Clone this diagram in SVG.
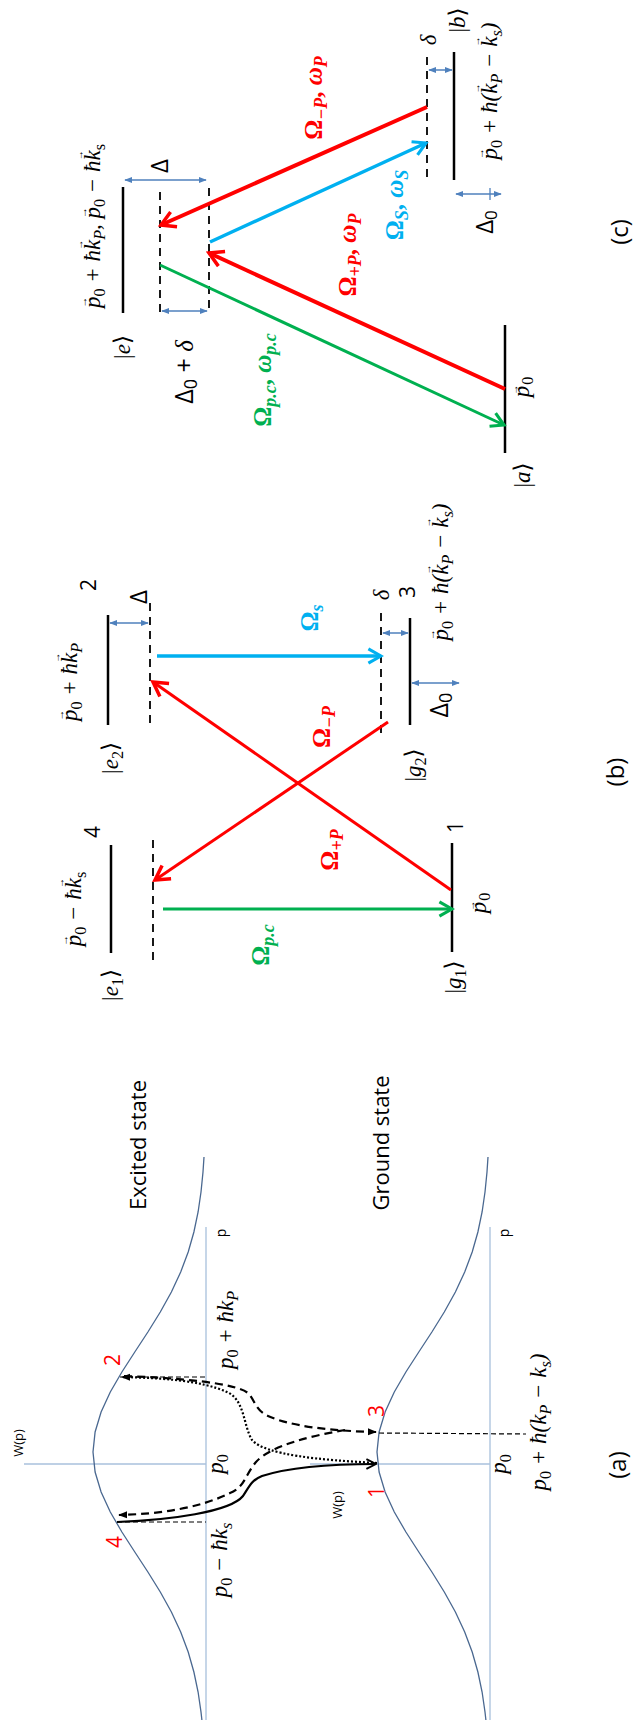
<svg xmlns="http://www.w3.org/2000/svg" width="633" height="1725" viewBox="0 0 633 1725">
<style>
.m{font-family:"Liberation Serif","DejaVu Serif",serif;font-style:italic;font-size:23px;}
.up{font-style:normal;}
.sb{font-size:70%;font-style:normal;}
.sbi{font-size:70%;}
.va{font-family:"Liberation Sans","DejaVu Sans",sans-serif;font-style:normal;font-size:11px;}
.vk{font-family:"Liberation Sans","DejaVu Sans",sans-serif;font-style:normal;font-size:10px;}
.s{font-family:"Open Sans","Liberation Sans",sans-serif;}
.om{font-family:"Liberation Serif","DejaVu Serif",serif;font-weight:bold;font-size:25px;}
.os{font-size:18px;font-style:italic;}
.lev{stroke:#000;stroke-width:2.5;fill:none;}
.vir{stroke:#000;stroke-width:1.8;stroke-dasharray:8,6;fill:none;}
.dbl{stroke:#4f81bd;stroke-width:1.5;fill:none;marker-start:url(#ab);marker-end:url(#ab);}
.ax{stroke:#a8c0dc;stroke-width:1.3;fill:none;}
.gs{stroke:#4a6890;stroke-width:1.3;fill:none;}
.thin{stroke:#000;stroke-width:1.2;stroke-dasharray:5,3;fill:none;}
.cv{stroke:#000;stroke-width:2.2;fill:none;}
</style>
<defs>
<marker id="aR" viewBox="0 0 20 20" refX="17" refY="10" markerWidth="20" markerHeight="20" markerUnits="userSpaceOnUse" orient="auto"><path d="M3,2 L17,10 L3,18" fill="none" stroke="#ff0000" stroke-width="3.5"/></marker>
<marker id="aBl" viewBox="0 0 20 20" refX="17" refY="10" markerWidth="18" markerHeight="18" markerUnits="userSpaceOnUse" orient="auto"><path d="M3,2 L17,10 L3,18" fill="none" stroke="#00b0f0" stroke-width="3.5"/></marker>
<marker id="aG" viewBox="0 0 20 20" refX="17" refY="10" markerWidth="18" markerHeight="18" markerUnits="userSpaceOnUse" orient="auto"><path d="M3,2 L17,10 L3,18" fill="none" stroke="#00b050" stroke-width="3.5"/></marker>
<marker id="ab" viewBox="0 0 10 10" refX="9" refY="5" markerWidth="8" markerHeight="8" markerUnits="userSpaceOnUse" orient="auto-start-reverse"><path d="M0,1 L10,5 L0,9 Z" fill="#4f81bd"/></marker>
<marker id="ak" viewBox="0 0 10 10" refX="9" refY="5" markerWidth="9" markerHeight="9" markerUnits="userSpaceOnUse" orient="auto"><path d="M0,1 L10,5 L0,9 Z" fill="#000"/></marker>
<marker id="ako" viewBox="0 0 10 10" refX="9" refY="5" markerWidth="12" markerHeight="12" markerUnits="userSpaceOnUse" orient="auto"><path d="M1,1 L9,5 L1,9" fill="none" stroke="#000" stroke-width="1.6"/></marker>
</defs>

<!-- Panel (c) -->
<g id="panel-c">
<g id="c-level-b">
<line class="lev" x1="454" y1="52" x2="454" y2="180"/>
<line class="vir" x1="427" y1="57" x2="427" y2="180"/>
<line class="dbl" x1="429" y1="70" x2="452" y2="70"/>
<text class="m" font-size="26" text-anchor="middle" transform="translate(465,20) rotate(-90)"><tspan class="up">|</tspan>b<tspan class="up">⟩</tspan></text>
<text class="m" font-size="25" text-anchor="middle" transform="translate(436,40) rotate(-90)">δ</text>
<text class="m" text-anchor="middle" transform="translate(497,91) rotate(-90)">p<tspan class="va" dx="-11" dy="-13">→</tspan><tspan class="sb" dy="18">0</tspan><tspan dy="-5"> + ħ(k</tspan><tspan class="vk" dx="-10" dy="-17">→</tspan><tspan class="sbi" dy="22">P</tspan><tspan dy="-5"> − k</tspan><tspan class="vk" dx="-10" dy="-17">→</tspan><tspan class="sbi" dy="22">s</tspan><tspan dy="-5">)</tspan></text>
<line class="dbl" x1="456" y1="194" x2="501" y2="194"/>
<line stroke="#4f81bd" stroke-width="1.3" x1="490" y1="188" x2="490" y2="200"/>
<text class="s" font-size="24" text-anchor="middle" transform="translate(493,222) rotate(-90)">Δ<tspan font-size="17" dy="4">0</tspan></text>
</g>
<g id="c-level-e">
<line class="lev" x1="123" y1="187" x2="123" y2="313"/>
<line class="vir" x1="160" y1="192" x2="160" y2="313"/>
<line class="vir" x1="209" y1="188" x2="209" y2="313"/>
<line class="dbl" x1="125" y1="180" x2="206" y2="180"/>
<line class="dbl" x1="162" y1="311" x2="207" y2="311"/>
<text class="m" font-size="26" text-anchor="middle" transform="translate(130,347) rotate(-90)"><tspan class="up">|</tspan>e<tspan class="up">⟩</tspan></text>
<text class="m" text-anchor="middle" transform="translate(100,226) rotate(-90)">p<tspan class="va" dx="-11" dy="-13">→</tspan><tspan class="sb" dy="18">0</tspan><tspan dy="-5"> + ħk</tspan><tspan class="vk" dx="-10" dy="-17">→</tspan><tspan class="sbi" dy="22">P</tspan><tspan dy="-5">, p</tspan><tspan class="va" dx="-11" dy="-13">→</tspan><tspan class="sb" dy="18">0</tspan><tspan dy="-5"> − ħk</tspan><tspan class="vk" dx="-10" dy="-17">→</tspan><tspan class="sb" dy="22">s</tspan></text>
<text class="s" font-size="24" text-anchor="middle" transform="translate(168,166) rotate(-90)">Δ</text>
<text class="s" font-size="25" text-anchor="middle" transform="translate(193,372) rotate(-90)">Δ<tspan font-size="18" dy="4">0</tspan><tspan dy="-4"> + </tspan><tspan font-family="Liberation Serif" font-style="italic">δ</tspan></text>
</g>
<g id="c-level-a">
<line class="lev" x1="505" y1="325" x2="505" y2="453"/>
<text class="m" font-size="26" text-anchor="middle" transform="translate(530,475) rotate(-90)"><tspan class="up">|</tspan>a<tspan class="up">⟩</tspan></text>
<text class="m" font-size="19" text-anchor="middle" transform="translate(529,387) rotate(-90)">p<tspan class="vk" dx="-9" dy="-11">→</tspan><tspan class="sb" dy="15">0</tspan></text>
</g>
<g id="c-labels">
<text class="om" fill="#ff0000" text-anchor="middle" transform="translate(322,98) rotate(-90)">Ω<tspan class="os" dy="5">−P</tspan><tspan dy="-5">,  </tspan><tspan font-style="italic">ω</tspan><tspan class="os" dy="5">P</tspan></text>
<text class="om" fill="#00b0f0" text-anchor="middle" transform="translate(403,205) rotate(-90)">Ω<tspan class="os" dy="5">S</tspan><tspan dy="-5">,  </tspan><tspan font-style="italic">ω</tspan><tspan class="os" dy="5">S</tspan></text>
<text class="om" fill="#ff0000" text-anchor="middle" transform="translate(356,255) rotate(-90)">Ω<tspan class="os" dy="5">+P</tspan><tspan dy="-5">,  </tspan><tspan font-style="italic">ω</tspan><tspan class="os" dy="5">P</tspan></text>
<text class="om" fill="#00b050" text-anchor="middle" transform="translate(271,380) rotate(-90)">Ω<tspan class="os" dy="5">p.c</tspan><tspan dy="-5">,  </tspan><tspan font-style="italic">ω</tspan><tspan class="os" dy="5">p.c</tspan></text>
<text class="s" font-size="24" text-anchor="middle" transform="translate(628,232) rotate(-90)">(c)</text>
</g>
</g>

<!-- Panel (b) -->
<g id="panel-b">
<g id="b-e2">
<line class="lev" x1="108" y1="615" x2="108" y2="725"/>
<line class="vir" x1="150" y1="603" x2="150" y2="727"/>
<line class="dbl" x1="110" y1="623" x2="148" y2="623"/>
<text class="s" font-size="21" text-anchor="middle" transform="translate(96,585) rotate(-90)">2</text>
<text class="s" font-size="24" text-anchor="middle" transform="translate(147,597) rotate(-90)">Δ</text>
<text class="m" text-anchor="middle" transform="translate(77,682) rotate(-90)">p<tspan class="va" dx="-11" dy="-13">→</tspan><tspan class="sb" dy="18">0</tspan><tspan dy="-5"> + ħk</tspan><tspan class="vk" dx="-10" dy="-17">→</tspan><tspan class="sbi" dy="22">P</tspan></text>
<text class="m" font-size="26" text-anchor="middle" transform="translate(118,758) rotate(-90)"><tspan class="up">|</tspan>e<tspan class="sb" dy="5">2</tspan><tspan class="up" dy="-5">⟩</tspan></text>
</g>
<g id="b-g2">
<line class="lev" x1="410" y1="618" x2="410" y2="725"/>
<line class="vir" x1="381" y1="613" x2="381" y2="737"/>
<line class="dbl" x1="383" y1="633" x2="408" y2="633"/>
<line class="dbl" x1="412" y1="683" x2="459" y2="683"/>
<text class="m" font-size="24" text-anchor="middle" transform="translate(389,595) rotate(-90)">δ</text>
<text class="s" font-size="21" text-anchor="middle" transform="translate(415,592) rotate(-90)">3</text>
<text class="s" font-size="25" text-anchor="middle" transform="translate(448,705) rotate(-90)">Δ<tspan font-size="18" dy="4">0</tspan></text>
<text class="m" text-anchor="middle" transform="translate(448,572) rotate(-90)">p<tspan class="va" dx="-11" dy="-13">→</tspan><tspan class="sb" dy="18">0</tspan><tspan dy="-5"> + ħ(k</tspan><tspan class="vk" dx="-10" dy="-17">→</tspan><tspan class="sbi" dy="22">P</tspan><tspan dy="-5"> − k</tspan><tspan class="vk" dx="-10" dy="-17">→</tspan><tspan class="sbi" dy="22">s</tspan><tspan dy="-5">)</tspan></text>
<text class="m" font-size="26" text-anchor="middle" transform="translate(421,765) rotate(-90)"><tspan class="up">|</tspan>g<tspan class="sb" dy="5">2</tspan><tspan class="up" dy="-5">⟩</tspan></text>
</g>
<g id="b-e1">
<line class="lev" x1="111" y1="845" x2="111" y2="953"/>
<line class="vir" x1="153" y1="840" x2="153" y2="963"/>
<text class="s" font-size="21" text-anchor="middle" transform="translate(100,832) rotate(-90)">4</text>
<text class="m" text-anchor="middle" transform="translate(81,909) rotate(-90)">p<tspan class="va" dx="-11" dy="-13">→</tspan><tspan class="sb" dy="18">0</tspan><tspan dy="-5"> − ħk</tspan><tspan class="vk" dx="-10" dy="-17">→</tspan><tspan class="sb" dy="22">s</tspan></text>
<text class="m" font-size="26" text-anchor="middle" transform="translate(118,985) rotate(-90)"><tspan class="up">|</tspan>e<tspan class="sb" dy="5">1</tspan><tspan class="up" dy="-5">⟩</tspan></text>
</g>
<g id="b-g1">
<line class="lev" x1="452" y1="843" x2="452" y2="952"/>
<text class="s" font-size="21" text-anchor="middle" transform="translate(463,827) rotate(-90)">1</text>
<text class="m" font-size="19" text-anchor="middle" transform="translate(486,903) rotate(-90)">p<tspan class="vk" dx="-9" dy="-11">→</tspan><tspan class="sb" dy="15">0</tspan></text>
<text class="m" font-size="26" text-anchor="middle" transform="translate(461,977) rotate(-90)"><tspan class="up">|</tspan>g<tspan class="sb" dy="5">1</tspan><tspan class="up" dy="-5">⟩</tspan></text>
</g>
<g id="b-labels">
<text class="om" fill="#00b0f0" text-anchor="middle" transform="translate(318,618) rotate(-90)">Ω<tspan class="os" dy="5">s</tspan></text>
<text class="om" fill="#ff0000" text-anchor="middle" transform="translate(330,727) rotate(-90)">Ω<tspan class="os" dy="5">−P</tspan></text>
<text class="om" fill="#ff0000" text-anchor="middle" transform="translate(338,850) rotate(-90)">Ω<tspan class="os" dy="5">+P</tspan></text>
<text class="om" fill="#00b050" text-anchor="middle" transform="translate(269,945) rotate(-90)">Ω<tspan class="os" dy="5">p.c</tspan></text>
<text class="s" font-size="24" text-anchor="middle" transform="translate(624,772) rotate(-90)">(b)</text>
</g>
</g>

<!-- Panel (a) -->
<g id="panel-a">
<g id="a-axes">
<line class="ax" x1="206" y1="1227" x2="206" y2="1720"/>
<line class="ax" x1="490" y1="1227" x2="490" y2="1720"/>
<line class="ax" x1="24" y1="1464" x2="206" y2="1464"/>
<line class="ax" x1="310" y1="1464" x2="490" y2="1464"/>
<text class="s" font-size="13" text-anchor="middle" transform="translate(23,1443) rotate(-90)">W(p)</text>
<text class="s" font-size="13" text-anchor="middle" transform="translate(342,1505) rotate(-90)">W(p)</text>
<text class="s" font-size="14" text-anchor="middle" transform="translate(226,1233) rotate(-90)">p</text>
<text class="s" font-size="14" text-anchor="middle" transform="translate(509,1233) rotate(-90)">p</text>
</g>
<g id="a-excited">
<polyline class="gs" points="204,1157 203,1172 201,1192 198.1,1212 193.9,1232 188.2,1252 180.7,1272 171.4,1292 160.3,1312 147.9,1332 134.8,1352 121.9,1372 110.3,1392 101.1,1412 95.1,1432 93,1452 95.1,1472 101.1,1492 110.3,1512 121.9,1532 134.8,1552 147.9,1572 160.3,1592 171.4,1612 180.7,1632 188.2,1652 193.9,1672 198.1,1692 201,1712 201.9,1720"/>
<text class="s" font-size="22" text-anchor="middle" transform="translate(146,1145) rotate(-90)">Excited state</text>
</g>
<g id="a-ground">
<polyline class="gs" points="488,1157 487,1172 485,1192 482.1,1212 477.9,1232 472.2,1252 464.7,1272 455.4,1292 444.3,1312 431.9,1332 418.8,1352 405.9,1372 394.3,1392 385.1,1412 379.1,1432 377,1452 379.1,1472 385.1,1492 394.3,1512 405.9,1532 418.8,1552 431.9,1572 444.3,1592 455.4,1612 464.7,1632 472.2,1652 477.9,1672 482.1,1692 485,1712 485.9,1720"/>
<text class="s" font-size="22" text-anchor="middle" transform="translate(389,1143) rotate(-90)">Ground state</text>
</g>
<g id="a-labels">
<text class="m" text-anchor="middle" transform="translate(223,1464) rotate(-90)">p<tspan class="sb" dy="5">0</tspan></text>
<text class="m" text-anchor="middle" transform="translate(506,1464) rotate(-90)">p<tspan class="sb" dy="5">0</tspan></text>
<text class="m" text-anchor="middle" transform="translate(233,1330) rotate(-90)">p<tspan class="sb" dy="5">0</tspan><tspan dy="-5"> + ħk</tspan><tspan class="sbi" dy="5">P</tspan></text>
<text class="m" text-anchor="middle" transform="translate(227,1560) rotate(-90)">p<tspan class="sb" dy="5">0</tspan><tspan dy="-5"> − ħk</tspan><tspan class="sbi" dy="5">s</tspan></text>
<text class="m" text-anchor="middle" transform="translate(546,1422) rotate(-90)">p<tspan class="sb" dy="5">0</tspan><tspan dy="-5"> + ħ(k</tspan><tspan class="sbi" dy="5">P</tspan><tspan dy="-5"> − k</tspan><tspan class="sbi" dy="5">s</tspan><tspan dy="-5">)</tspan></text>
<text class="s" font-size="21" fill="#ff0000" text-anchor="middle" transform="translate(120,1360) rotate(-90)">2</text>
<text class="s" font-size="21" fill="#ff0000" text-anchor="middle" transform="translate(384,1411) rotate(-90)">3</text>
<text class="s" font-size="21" fill="#ff0000" text-anchor="middle" transform="translate(122,1542) rotate(-90)">4</text>
<text class="s" font-size="21" fill="#ff0000" text-anchor="middle" transform="translate(384,1492) rotate(-90)">1</text>
<text class="s" font-size="24" text-anchor="middle" transform="translate(626,1465) rotate(-90)">(a)</text>
</g>
</g>

<!-- Connectors -->
<g id="connectors">
<line x1="427" y1="107" x2="161" y2="225" stroke="#ff0000" stroke-width="4" marker-end="url(#aR)"/>
<line x1="210" y1="242" x2="426" y2="143" stroke="#00b0f0" stroke-width="3.5" marker-end="url(#aBl)"/>
<line x1="505" y1="389" x2="209" y2="253" stroke="#ff0000" stroke-width="4" marker-end="url(#aR)"/>
<line x1="160" y1="265" x2="504" y2="425" stroke="#00b050" stroke-width="3" marker-end="url(#aG)"/>

<line x1="157" y1="656" x2="381" y2="656" stroke="#00b0f0" stroke-width="3.5" marker-end="url(#aBl)"/>
<line x1="451" y1="890" x2="153" y2="682" stroke="#ff0000" stroke-width="3" marker-end="url(#aR)"/>
<line x1="388" y1="722" x2="155" y2="880" stroke="#ff0000" stroke-width="3" marker-end="url(#aR)"/>
<line x1="163" y1="909" x2="452" y2="909" stroke="#00b050" stroke-width="3" marker-end="url(#aG)"/>

<line class="thin" x1="120" y1="1377" x2="206" y2="1377"/>
<line class="thin" x1="117" y1="1522" x2="206" y2="1522"/>
<line class="thin" x1="379" y1="1433" x2="526" y2="1434"/>
<path class="cv" stroke-dasharray="2,2" d="M377,1463 C320,1460 265,1455 252,1440 C243,1425 245,1400 227,1392 C200,1380 160,1378 122,1377" marker-end="url(#ak)"/>
<path class="cv" stroke-dasharray="8,5" d="M124,1376 C180,1378 235,1383 248,1393 C255,1400 255,1410 268,1416 C290,1426 330,1431 376,1432" marker-end="url(#ak)"/>
<path class="cv" stroke-dasharray="8,5" d="M345,1430 C310,1436 270,1446 256,1462 C245,1475 245,1487 230,1493 C200,1508 160,1514 119,1515" marker-end="url(#ak)"/>
<path class="cv" d="M117,1522 C170,1520 230,1512 243,1496 C250,1485 252,1480 262,1476 C290,1467 330,1464 376,1464" marker-end="url(#ako)"/>
</g>
</svg>
